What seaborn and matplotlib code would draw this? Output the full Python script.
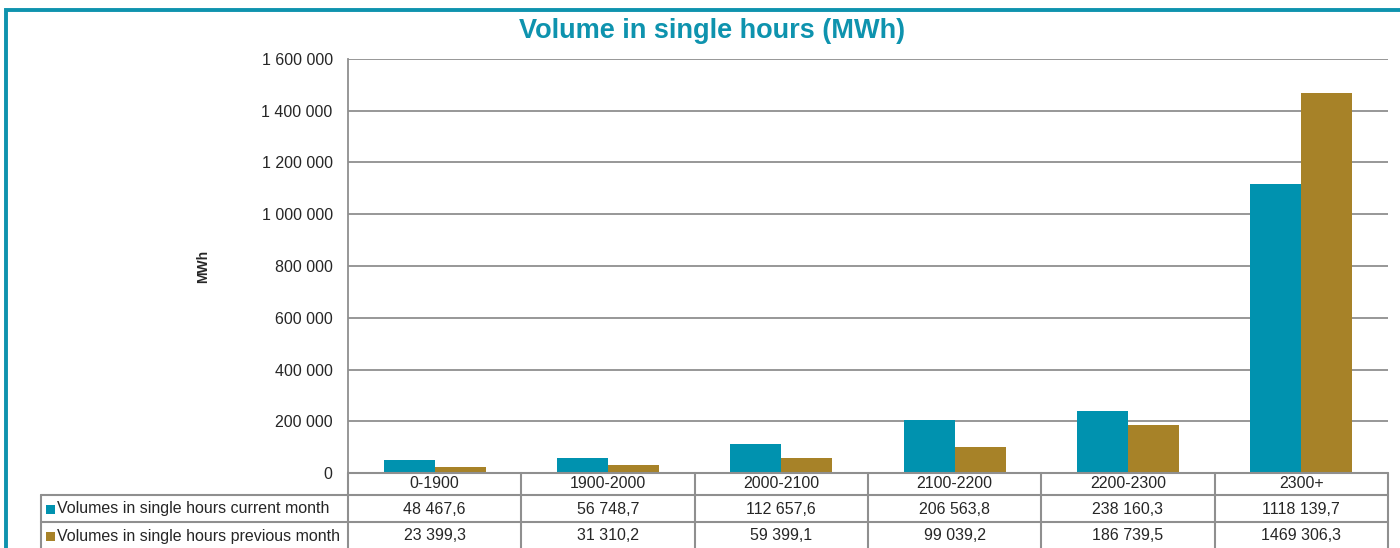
import matplotlib
matplotlib.use("Agg")
import matplotlib.pyplot as plt
import matplotlib.transforms as mtransforms
from matplotlib.patches import Rectangle
from matplotlib.lines import Line2D
from matplotlib.ticker import FuncFormatter
import seaborn as sns
import pandas as pd

categories = ["0-1900", "1900-2000", "2000-2100", "2100-2200", "2200-2300", "2300+"]
series_names = ["Volumes in single hours current month", "Volumes in single hours previous month"]
current_month = [48467.6, 56748.7, 112657.6, 206563.8, 238160.3, 1118139.7]
previous_month = [23399.3, 31310.2, 59399.1, 99039.2, 186739.5, 1469306.3]
y_ticks = [0, 200000, 400000, 600000, 800000, 1000000, 1200000, 1400000, 1600000]

TEAL = "#0092AF"
GOLD = "#A78228"
GRID = "#8f8f8f"
TITLE_C = "#0E93AE"
FS = 11.5

sns.set_style("white")
plt.rcParams["font.family"] = ["Liberation Sans", "DejaVu Sans"]

W, H = 1400, 548
fig = plt.figure(figsize=(W / 100, H / 100), dpi=100)
ax = fig.add_axes([348 / W, 1 - 473 / H, 1040 / W, 414 / H])

df = pd.DataFrame({
    "cat": categories * 2,
    "series": [series_names[0]] * len(categories) + [series_names[1]] * len(categories),
    "value": current_month + previous_month,
})
sns.barplot(data=df, x="cat", y="value", hue="series", order=categories,
            hue_order=series_names, palette=[TEAL, GOLD], width=0.59,
            saturation=1, legend=False, ax=ax, zorder=3, linewidth=0)

ax.set_xlim(-0.5, len(categories) - 0.5)
ax.set_ylim(0, 1600000)
ax.set_yticks(y_ticks)
ax.yaxis.set_major_formatter(FuncFormatter(lambda v, p: f"{int(v):,}".replace(",", " ")))
ax.tick_params(axis="y", labelsize=FS, length=0, pad=11)
ax.tick_params(axis="x", length=0, labelbottom=False)
ax.set_xlabel("")
ax.set_ylabel("MWh", fontsize=10, fontweight="bold", labelpad=37)
ax.grid(axis="y", color=GRID, linewidth=1.3, zorder=0)
for s in ["top", "right", "bottom"]:
    ax.spines[s].set_visible(False)
ax.spines["left"].set_color(GRID)
ax.spines["left"].set_linewidth(1.3)

# Title
fig.text(712 / W, 1 - 30.5 / H, "Volume in single hours (MWh)", ha="center", va="center",
         fontsize=19.5, fontweight="bold", color=TITLE_C)

# Border
fig.patches.append(Rectangle((5.5 / W, -0.2), 1.5, 1.2 - 9.5 / H, transform=fig.transFigure,
                             fill=False, edgecolor=TITLE_C, linewidth=2.8, zorder=10))

# Data table
def fy(py):
    return 1 - py / H

def fmt(v):
    ip = int(v)
    dec = int(round((v - ip) * 10))
    if ip >= 1000:
        return f"{ip // 1000} {ip % 1000:03d},{dec}"
    return f"{ip},{dec}"

blend = mtransforms.blended_transform_factory(ax.transData, fig.transFigure)
lw = 1.5
n = len(categories)
for py, x0 in [(473, 348), (495, 41), (522, 41)]:
    fig.add_artist(Line2D([x0 / W, 1388 / W], [fy(py), fy(py)], transform=fig.transFigure,
                          color=GRID, linewidth=lw, clip_on=False))
fig.add_artist(Line2D([41 / W, 41 / W], [fy(495), fy(560)], transform=fig.transFigure,
                      color=GRID, linewidth=lw, clip_on=False))
for k in range(n + 1):
    xb = k - 0.5
    fig.add_artist(Line2D([xb, xb], [fy(473), fy(560)], transform=blend,
                          color=GRID, linewidth=lw, clip_on=False))

for i, c in enumerate(categories):
    fig.text(i, fy(484), c, transform=blend, ha="center", va="center", fontsize=FS)
    fig.text(i, fy(509), fmt(current_month[i]), transform=blend, ha="center", va="center", fontsize=FS)
    fig.text(i, fy(536), fmt(previous_month[i]), transform=blend, ha="center", va="center", fontsize=FS)

for row_y, name, col in [(509, series_names[0], TEAL), (536, series_names[1], GOLD)]:
    fig.patches.append(Rectangle((46 / W, fy(row_y + 4.5)), 9 / W, 9 / H, transform=fig.transFigure,
                                 facecolor=col, edgecolor="none"))
    fig.text(57 / W, fy(row_y), name, ha="left", va="center", fontsize=FS)

fig.savefig("out.png", dpi=100)
